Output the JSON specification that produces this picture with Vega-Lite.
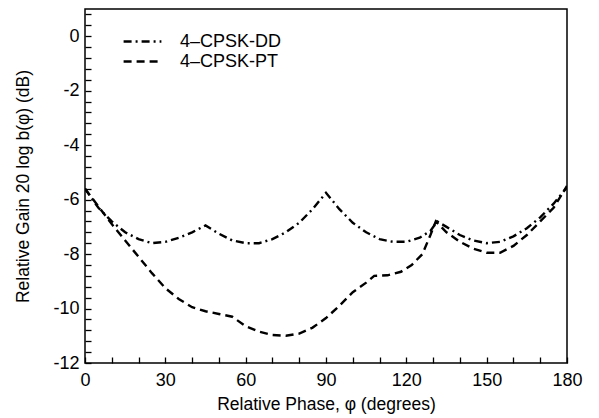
{
  "$schema": "https://vega.github.io/schema/vega-lite/v6.json",
  "width": 482,
  "height": 354,
  "autosize": "none",
  "padding": {"left": 85, "top": 9, "right": 32, "bottom": 55},
  "background": "white",
  "config": {
    "font": "Liberation Sans",
    "view": {"stroke": "black", "strokeWidth": 1.5},
    "axis": {
      "labelColor": "black", "labelFontSize": 18, "labelFont": "Liberation Sans",
      "titleColor": "black", "titleFontSize": 17.5, "titleFont": "Liberation Sans", "titleFontWeight": "normal"
    },
    "legend": {"labelFont": "Liberation Sans"}
  },
  "data": {
    "values": [
      {"phase": 0, "gain": -5.6, "series": "4–CPSK-DD"},
      {"phase": 5, "gain": -6.3, "series": "4–CPSK-DD"},
      {"phase": 10, "gain": -6.8, "series": "4–CPSK-DD"},
      {"phase": 15, "gain": -7.2, "series": "4–CPSK-DD"},
      {"phase": 20, "gain": -7.45, "series": "4–CPSK-DD"},
      {"phase": 25, "gain": -7.6, "series": "4–CPSK-DD"},
      {"phase": 30, "gain": -7.55, "series": "4–CPSK-DD"},
      {"phase": 35, "gain": -7.4, "series": "4–CPSK-DD"},
      {"phase": 40, "gain": -7.2, "series": "4–CPSK-DD"},
      {"phase": 45, "gain": -6.95, "series": "4–CPSK-DD"},
      {"phase": 50, "gain": -7.25, "series": "4–CPSK-DD"},
      {"phase": 55, "gain": -7.5, "series": "4–CPSK-DD"},
      {"phase": 60, "gain": -7.6, "series": "4–CPSK-DD"},
      {"phase": 65, "gain": -7.6, "series": "4–CPSK-DD"},
      {"phase": 70, "gain": -7.45, "series": "4–CPSK-DD"},
      {"phase": 75, "gain": -7.2, "series": "4–CPSK-DD"},
      {"phase": 80, "gain": -6.85, "series": "4–CPSK-DD"},
      {"phase": 85, "gain": -6.35, "series": "4–CPSK-DD"},
      {"phase": 90, "gain": -5.75, "series": "4–CPSK-DD"},
      {"phase": 95, "gain": -6.35, "series": "4–CPSK-DD"},
      {"phase": 100, "gain": -6.85, "series": "4–CPSK-DD"},
      {"phase": 105, "gain": -7.2, "series": "4–CPSK-DD"},
      {"phase": 110, "gain": -7.45, "series": "4–CPSK-DD"},
      {"phase": 115, "gain": -7.55, "series": "4–CPSK-DD"},
      {"phase": 120, "gain": -7.55, "series": "4–CPSK-DD"},
      {"phase": 125, "gain": -7.4, "series": "4–CPSK-DD"},
      {"phase": 129, "gain": -7.15, "series": "4–CPSK-DD"},
      {"phase": 131.5, "gain": -6.8, "series": "4–CPSK-DD"},
      {"phase": 135, "gain": -7.0, "series": "4–CPSK-DD"},
      {"phase": 140, "gain": -7.3, "series": "4–CPSK-DD"},
      {"phase": 145, "gain": -7.5, "series": "4–CPSK-DD"},
      {"phase": 150, "gain": -7.6, "series": "4–CPSK-DD"},
      {"phase": 155, "gain": -7.55, "series": "4–CPSK-DD"},
      {"phase": 160, "gain": -7.35, "series": "4–CPSK-DD"},
      {"phase": 165, "gain": -7.05, "series": "4–CPSK-DD"},
      {"phase": 170, "gain": -6.65, "series": "4–CPSK-DD"},
      {"phase": 175, "gain": -6.15, "series": "4–CPSK-DD"},
      {"phase": 180, "gain": -5.55, "series": "4–CPSK-DD"},
      {"phase": 0, "gain": -5.6, "series": "4–CPSK-PT"},
      {"phase": 5, "gain": -6.25, "series": "4–CPSK-PT"},
      {"phase": 10, "gain": -6.9, "series": "4–CPSK-PT"},
      {"phase": 15, "gain": -7.5, "series": "4–CPSK-PT"},
      {"phase": 20, "gain": -8.1, "series": "4–CPSK-PT"},
      {"phase": 25, "gain": -8.7, "series": "4–CPSK-PT"},
      {"phase": 30, "gain": -9.25, "series": "4–CPSK-PT"},
      {"phase": 35, "gain": -9.65, "series": "4–CPSK-PT"},
      {"phase": 40, "gain": -9.95, "series": "4–CPSK-PT"},
      {"phase": 45, "gain": -10.1, "series": "4–CPSK-PT"},
      {"phase": 50, "gain": -10.2, "series": "4–CPSK-PT"},
      {"phase": 55, "gain": -10.3, "series": "4–CPSK-PT"},
      {"phase": 60, "gain": -10.65, "series": "4–CPSK-PT"},
      {"phase": 65, "gain": -10.85, "series": "4–CPSK-PT"},
      {"phase": 70, "gain": -10.97, "series": "4–CPSK-PT"},
      {"phase": 75, "gain": -11.0, "series": "4–CPSK-PT"},
      {"phase": 80, "gain": -10.92, "series": "4–CPSK-PT"},
      {"phase": 85, "gain": -10.7, "series": "4–CPSK-PT"},
      {"phase": 90, "gain": -10.35, "series": "4–CPSK-PT"},
      {"phase": 95, "gain": -9.9, "series": "4–CPSK-PT"},
      {"phase": 100, "gain": -9.4, "series": "4–CPSK-PT"},
      {"phase": 105, "gain": -9.05, "series": "4–CPSK-PT"},
      {"phase": 108, "gain": -8.8, "series": "4–CPSK-PT"},
      {"phase": 113, "gain": -8.78, "series": "4–CPSK-PT"},
      {"phase": 118, "gain": -8.65, "series": "4–CPSK-PT"},
      {"phase": 122, "gain": -8.4, "series": "4–CPSK-PT"},
      {"phase": 126, "gain": -8.0, "series": "4–CPSK-PT"},
      {"phase": 129, "gain": -7.3, "series": "4–CPSK-PT"},
      {"phase": 131, "gain": -6.8, "series": "4–CPSK-PT"},
      {"phase": 135, "gain": -7.2, "series": "4–CPSK-PT"},
      {"phase": 140, "gain": -7.55, "series": "4–CPSK-PT"},
      {"phase": 145, "gain": -7.8, "series": "4–CPSK-PT"},
      {"phase": 150, "gain": -7.95, "series": "4–CPSK-PT"},
      {"phase": 155, "gain": -7.95, "series": "4–CPSK-PT"},
      {"phase": 160, "gain": -7.7, "series": "4–CPSK-PT"},
      {"phase": 165, "gain": -7.3, "series": "4–CPSK-PT"},
      {"phase": 170, "gain": -6.8, "series": "4–CPSK-PT"},
      {"phase": 175, "gain": -6.3, "series": "4–CPSK-PT"},
      {"phase": 180, "gain": -5.5, "series": "4–CPSK-PT"}
    ]
  },
  "mark": {"type": "line", "color": "black", "strokeWidth": 2.4, "clip": true},
  "encoding": {
    "x": {
      "field": "phase", "type": "quantitative",
      "scale": {"domain": [0, 180], "nice": false, "zero": false},
      "axis": {
        "orient": "bottom",
        "grid": false,
        "domain": false,
        "title": "Relative Phase, φ (degrees)",
        "values": [0, 10, 20, 30, 40, 50, 60, 70, 80, 90, 100, 110, 120, 130, 140, 150, 160, 170, 180],
        "ticks": true, "tickSize": -6, "tickColor": "black", "tickWidth": 1.3,
        "labelExpr": "datum.value % 30 === 0 ? toString(datum.value) : ''",
        "labelPadding": 14,
        "labelFlush": false,
        "titlePadding": 6
      }
    },
    "y": {
      "field": "gain", "type": "quantitative",
      "scale": {"domain": [-12, 1], "nice": false, "zero": false},
      "axis": {
        "orient": "left",
        "grid": false,
        "domain": false,
        "title": "Relative Gain 20 log b(φ) (dB)",
        "values": [-12, -11.6, -11.2, -10.8, -10.4, -10, -9.6, -9.2, -8.8, -8.4, -8, -7.6, -7.2, -6.8, -6.4, -6, -5.6, -5.2, -4.8, -4.4, -4, -3.6, -3.2, -2.8, -2.4, -2, -1.6, -1.2, -0.8, -0.4, 0, 0.4, 0.8],
        "ticks": true, "tickSize": -6, "tickColor": "black", "tickWidth": 1.3,
        "labelExpr": "datum.value % 2 === 0 ? toString(datum.value) : ''",
        "labelPadding": 12,
        "labelFlush": false,
        "titlePadding": 20
      }
    },
    "strokeDash": {
      "field": "series", "type": "nominal",
      "scale": {"domain": ["4–CPSK-DD", "4–CPSK-PT"], "range": [[8, 4, 2, 4], [8, 5]]},
      "legend": {
        "title": null,
        "orient": "none",
        "legendX": 47,
        "legendY": 22,
        "padding": 0,
        "symbolType": "M-2.1,0H2.1",
        "symbolSize": 324,
        "symbolStrokeWidth": 2.4,
        "symbolStrokeColor": "black",
        "labelFontSize": 18,
        "labelColor": "black",
        "labelOffset": 27,
        "rowPadding": -1
      }
    }
  }
}
